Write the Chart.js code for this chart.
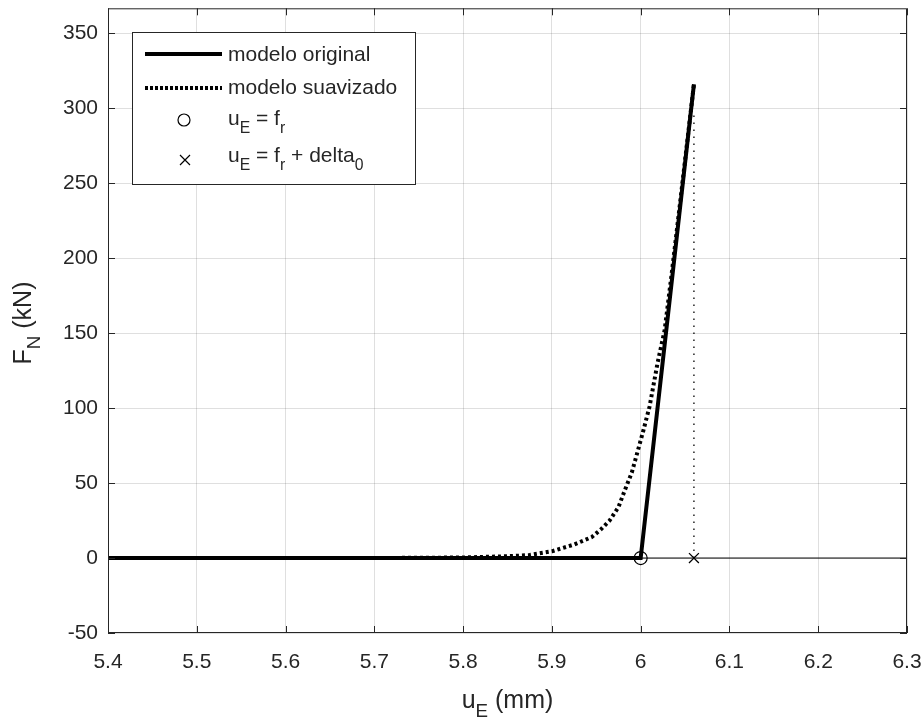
<!DOCTYPE html>
<html>
<head>
<meta charset="utf-8">
<script src="https://cdn.jsdelivr.net/npm/chart.js@4/dist/chart.umd.min.js"></script>
<style>
  html, body { margin: 0; padding: 0; background: #fff; }
  #wrap { width: 924px; height: 720px; }
</style>
</head>
<body>
<div id="wrap"><canvas id="chart" width="924" height="720"></canvas></div>
<script>
// values
const xTicks = [5.4, 5.5, 5.6, 5.7, 5.8, 5.9, 6.0, 6.1, 6.2, 6.3];
const yTicks = [-50, 0, 50, 100, 150, 200, 250, 300, 350];

const origX = [5.4, 6.0, 6.06];
const origY = [0, 0, 316];

const smoothX = [5.4, 5.7, 5.75, 5.8, 5.85, 5.875, 5.9, 5.925, 5.945, 5.955, 5.965, 5.975, 5.982, 5.99, 5.997, 6.003, 6.01, 6.019, 6.027, 6.035, 6.045, 6.06];
const smoothY = [0, 0.05, 0.15, 0.4, 1.2, 2, 4.5, 9, 14, 19, 25, 34, 45, 57, 72, 85, 101, 130, 152, 190, 240, 316];

const frX = [6.0];
const frY = [0];
const deltaX = [6.06];
const deltaY = [0];

const vLineX = [6.06, 6.06];
const vLineY = [0, 298];

const baseX = [5.4, 6.3];
const baseY = [0, 0];

const FONT = '"Liberation Sans", Arial, sans-serif';
const TXT = '#262626';

function pts(xs, ys) { return xs.map((x, i) => ({ x: x, y: ys[i] })); }

// text with subscripts: parts = [[text, isSub], ...]
function richWidth(ctx, parts, size) {
  let w = 0;
  parts.forEach(p => {
    ctx.font = (p[1] ? size * 0.75 : size) + 'px ' + FONT;
    w += ctx.measureText(p[0]).width;
  });
  return w;
}
function drawRich(ctx, parts, x, y, size) {
  let cx = x;
  parts.forEach(p => {
    ctx.font = (p[1] ? size * 0.75 : size) + 'px ' + FONT;
    ctx.fillText(p[0], cx, p[1] ? y + size * 0.45 : y);
    cx += ctx.measureText(p[0]).width;
  });
}

const decor = {
  id: 'decor',
  afterDraw(chart) {
    const ctx = chart.ctx;
    const a = chart.chartArea;
    const xs = chart.scales.x, ys = chart.scales.y;
    ctx.save();
    // box
    ctx.strokeStyle = TXT;
    ctx.lineWidth = 1;
    ctx.strokeRect(a.left + 0.5, a.top + 0.5, a.right - a.left - 1, a.bottom - a.top - 1);
    // inward ticks
    const tl = 7;
    ctx.beginPath();
    xTicks.forEach(v => {
      const px = Math.round(xs.getPixelForValue(v)) + 0.5;
      ctx.moveTo(px, a.bottom); ctx.lineTo(px, a.bottom - tl);
      ctx.moveTo(px, a.top); ctx.lineTo(px, a.top + tl);
    });
    yTicks.forEach(v => {
      const py = Math.round(ys.getPixelForValue(v)) + 0.5;
      ctx.moveTo(a.left, py); ctx.lineTo(a.left + tl, py);
      ctx.moveTo(a.right, py); ctx.lineTo(a.right - tl, py);
    });
    ctx.stroke();

    // axis titles
    ctx.fillStyle = TXT;
    ctx.textBaseline = 'middle';
    const tfs = 25;
    const xt = [['u', false], ['E', true], [' (mm)', false]];
    const xw = richWidth(ctx, xt, tfs);
    drawRich(ctx, xt, (a.left + a.right) / 2 - xw / 2, 701, tfs);

    ctx.save();
    ctx.translate(24, 323);
    ctx.rotate(-Math.PI / 2);
    const yt = [['F', false], ['N', true], [' (kN)', false]];
    const yw = richWidth(ctx, yt, tfs);
    drawRich(ctx, yt, -yw / 2, 0, tfs);
    ctx.restore();

    // legend
    const lx = 132.5, ly = 32.5, lw = 283, lh = 152;
    ctx.fillStyle = '#fff';
    ctx.fillRect(lx, ly, lw, lh);
    ctx.strokeStyle = TXT;
    ctx.lineWidth = 1;
    ctx.strokeRect(lx, ly, lw, lh);

    ctx.strokeStyle = '#000';
    ctx.lineWidth = 4;
    ctx.beginPath(); ctx.moveTo(145, 54); ctx.lineTo(222, 54); ctx.stroke();
    ctx.setLineDash([3, 2]);
    ctx.beginPath(); ctx.moveTo(145, 88); ctx.lineTo(222, 88); ctx.stroke();
    ctx.setLineDash([]);
    ctx.lineWidth = 1.2;
    ctx.beginPath(); ctx.arc(184, 120, 6, 0, Math.PI * 2); ctx.stroke();
    ctx.beginPath();
    ctx.moveTo(180, 155); ctx.lineTo(190, 165);
    ctx.moveTo(190, 155); ctx.lineTo(180, 165);
    ctx.stroke();

    ctx.fillStyle = TXT;
    const tx = 228, fs = 21;
    drawRich(ctx, [['modelo original', false]], tx, 55, fs);
    drawRich(ctx, [['modelo suavizado', false]], tx, 88, fs);
    drawRich(ctx, [['u', false], ['E', true], [' = f', false], ['r', true]], tx, 119, fs);
    drawRich(ctx, [['u', false], ['E', true], [' = f', false], ['r', true], [' + delta', false], ['0', true]], tx, 156, fs);
    ctx.restore();
  }
};

new Chart(document.getElementById('chart'), {
  type: 'line',
  data: {
    datasets: [
      {
        data: pts(baseX, baseY),
        borderColor: '#000', borderWidth: 1, pointRadius: 0
      },
      {
        data: pts(vLineX, vLineY),
        borderColor: '#000', borderWidth: 1.3, borderDash: [1.5, 5.5], pointRadius: 0
      },
      {
        label: 'modelo suavizado',
        data: pts(smoothX, smoothY),
        borderColor: '#000', borderWidth: 4, borderDash: [3, 3], pointRadius: 0
      },
      {
        label: 'modelo original',
        data: pts(origX, origY),
        borderColor: '#000', borderWidth: 4, pointRadius: 0
      },
      {
        label: 'u_E = f_r',
        data: pts(frX, frY),
        showLine: false, pointStyle: 'circle', pointRadius: 6.5,
        pointBorderColor: '#000', pointBackgroundColor: 'rgba(0,0,0,0)', pointBorderWidth: 1.2
      },
      {
        label: 'u_E = f_r + delta_0',
        data: pts(deltaX, deltaY),
        showLine: false, pointStyle: 'crossRot', pointRadius: 7,
        pointBorderColor: '#000', pointBorderWidth: 1.3
      }
    ]
  },
  options: {
    responsive: false,
    animation: false,
    events: [],
    layout: { padding: { left: 0, top: 8, right: 17, bottom: 0 } },
    plugins: { legend: { display: false }, tooltip: { enabled: false } },
    elements: { line: { tension: 0 } },
    scales: {
      x: {
        type: 'linear', min: 5.4, max: 6.3,
        afterBuildTicks: s => { s.ticks = xTicks.map(v => ({ value: v })); },
        afterFit: s => { s.height = 87; s.paddingLeft = 0; s.paddingRight = 0; },
        grid: { color: 'rgba(38,38,38,0.15)', drawTicks: false },
        border: { display: false },
        ticks: {
          padding: 17, color: TXT, font: { family: FONT, size: 21 },
          maxRotation: 0, autoSkip: false,
          callback: v => String(Number(v.toFixed(1)))
        }
      },
      y: {
        type: 'linear', min: -50, max: 366.7,
        afterBuildTicks: s => { s.ticks = yTicks.map(v => ({ value: v })); },
        afterFit: s => { s.width = 108; s.paddingTop = 0; s.paddingBottom = 0; },
        grid: { color: 'rgba(38,38,38,0.15)', drawTicks: false },
        border: { display: false },
        ticks: {
          padding: 10, color: TXT, font: { family: FONT, size: 21 },
          autoSkip: false,
          callback: v => String(v)
        }
      }
    }
  },
  plugins: [decor]
});
</script>
</body>
</html>
